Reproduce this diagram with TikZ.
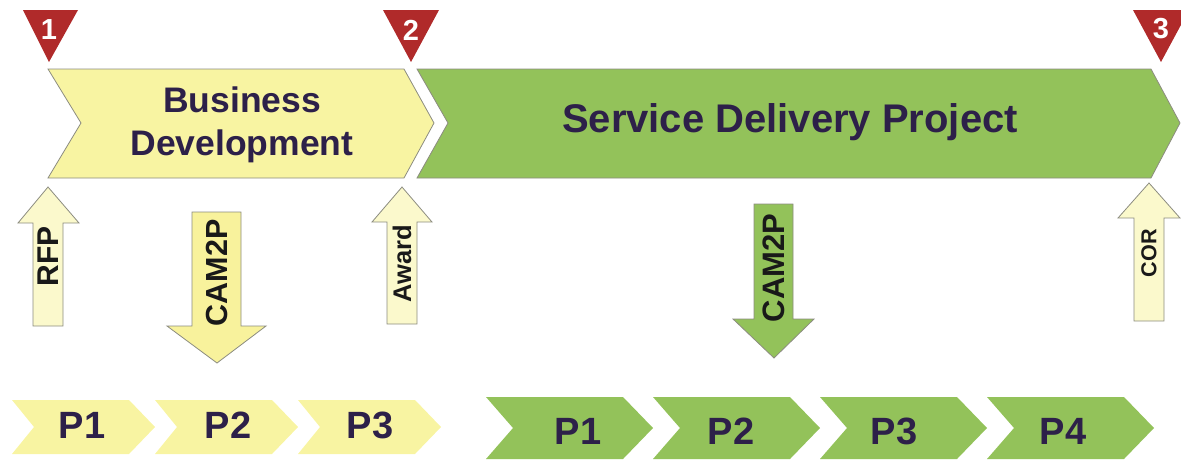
\documentclass[tikz,border=0pt]{standalone}
\usepackage{fontspec}
\setmainfont{Liberation Sans}
\definecolor{chevyellow}{HTML}{F8F4A2}
\definecolor{paleyellow}{HTML}{FBF9CC}
\definecolor{midyellow}{HTML}{F8F29C}
\definecolor{leafgreen}{HTML}{93C25A}
\definecolor{markred}{HTML}{B02A2A}
\definecolor{labelpurple}{HTML}{2D2049}
\definecolor{edgegray}{HTML}{8C8C80}
\newcommand{\fsz}[1]{\fontsize{#1}{#1}\selectfont\bfseries}
\tikzset{
  bigchev/.style={draw=edgegray, line width=0.8pt, line join=miter},
  blockarrow/.style={draw=edgegray, line width=0.8pt},
  smallchev/.style={draw=none},
  marker/.style={fill=markred, draw=none},
  marknum/.style={text=white, inner sep=0pt, anchor=center, font=\fsz{29}},
  chevlabel/.style={text=labelpurple, inner sep=0pt},
  arrowlabel/.style={text=black!90, inner sep=0pt, rotate=90, anchor=center},
}
\begin{document}
\begin{tikzpicture}[x=1pt,y=-1pt]
\useasboundingbox (0,0) rectangle (1181,459);
\clip (0,0) rectangle (1181,459);
% top phase chevrons
\filldraw[bigchev, fill=chevyellow] (48,69) -- (404,69) -- (434,123) -- (404,178) -- (48,178) -- (81,123) -- cycle;
\filldraw[bigchev, fill=leafgreen] (417,69) -- (1151,69) -- (1180,123) -- (1151,178) -- (417,178) -- (448,123) -- cycle;
\node[chevlabel, align=center, font=\fontsize{35.5}{43}\selectfont\bfseries] (bizdev) at (242,124.5) {Business\\Development};
\node[chevlabel, anchor=base, font=\fsz{40}] (sdp) at (790,132) {Service Delivery Project};
% milestone markers
\fill[marker] (23,10) -- (78,10) -- (49,62) -- cycle;
\fill[marker] (383,10) -- (439,10) -- (411,62) -- cycle;
\fill[marker] (1133,10) -- (1189,10) -- (1161,62) -- cycle;
\node[marknum] (m1) at (49,30) {1};
\node[marknum] (m2) at (411,30) {2};
\node[marknum] (m3) at (1161,29) {3};
% block arrows
\filldraw[blockarrow, fill=paleyellow] (33,326) -- (33,223) -- (18,223) -- (48,187) -- (79,223) -- (63,223) -- (63,326) -- cycle;
\node[arrowlabel, font=\fsz{30}] (rfp) at (48.5,256) {RFP};
\filldraw[blockarrow, fill=midyellow] (192,212) -- (241,212) -- (241,326) -- (266,326) -- (217,363) -- (167,326) -- (192,326) -- cycle;
\node[arrowlabel, font=\fsz{30.5}] (cama) at (217,273) {CAM2P};
\filldraw[blockarrow, fill=paleyellow] (387,324) -- (387,222) -- (372,222) -- (402,187) -- (432,222) -- (417,222) -- (417,324) -- cycle;
\node[arrowlabel, font=\fsz{25.5}] (award) at (402,264) {Award};
\filldraw[blockarrow, fill=leafgreen] (754,204) -- (793,204) -- (793,319) -- (814,319) -- (774,358) -- (733,319) -- (754,319) -- cycle;
\node[arrowlabel, font=\fsz{31}] (camb) at (774,268) {CAM2P};
\filldraw[blockarrow, fill=paleyellow] (1134,321) -- (1134,218) -- (1118,218) -- (1149,183) -- (1180,218) -- (1164,218) -- (1164,321) -- cycle;
\node[arrowlabel, font=\fsz{21.6}] (cor) at (1149,253) {COR};
% bottom phase chevrons: business development
\foreach \L in {12,155,298}{
  \fill[smallchev, fill=chevyellow] (\L,400) -- (\L+117,400) -- (\L+143,427) -- (\L+117,454) -- (\L,454) -- (\L+22,427) -- cycle;
}
\node[chevlabel, anchor=base, font=\fsz{38}] (ya) at (82,438) {P1};
\node[chevlabel, anchor=base, font=\fsz{38}] (yb) at (228,438) {P2};
\node[chevlabel, anchor=base, font=\fsz{38}] (yc) at (370,438) {P3};
% bottom phase chevrons: service delivery
\foreach \L in {486,653,820,987}{
  \fill[smallchev, fill=leafgreen] (\L,397) -- (\L+137,397) -- (\L+167,428) -- (\L+137,459) -- (\L,459) -- (\L+27,428) -- cycle;
}
\node[chevlabel, anchor=base, font=\fsz{38}] (ga) at (578,444) {P1};
\node[chevlabel, anchor=base, font=\fsz{38}] (gb) at (731,444) {P2};
\node[chevlabel, anchor=base, font=\fsz{38}] (gc) at (894,444) {P3};
\node[chevlabel, anchor=base, font=\fsz{38}] (gd) at (1063,444) {P4};
\end{tikzpicture}
\end{document}
